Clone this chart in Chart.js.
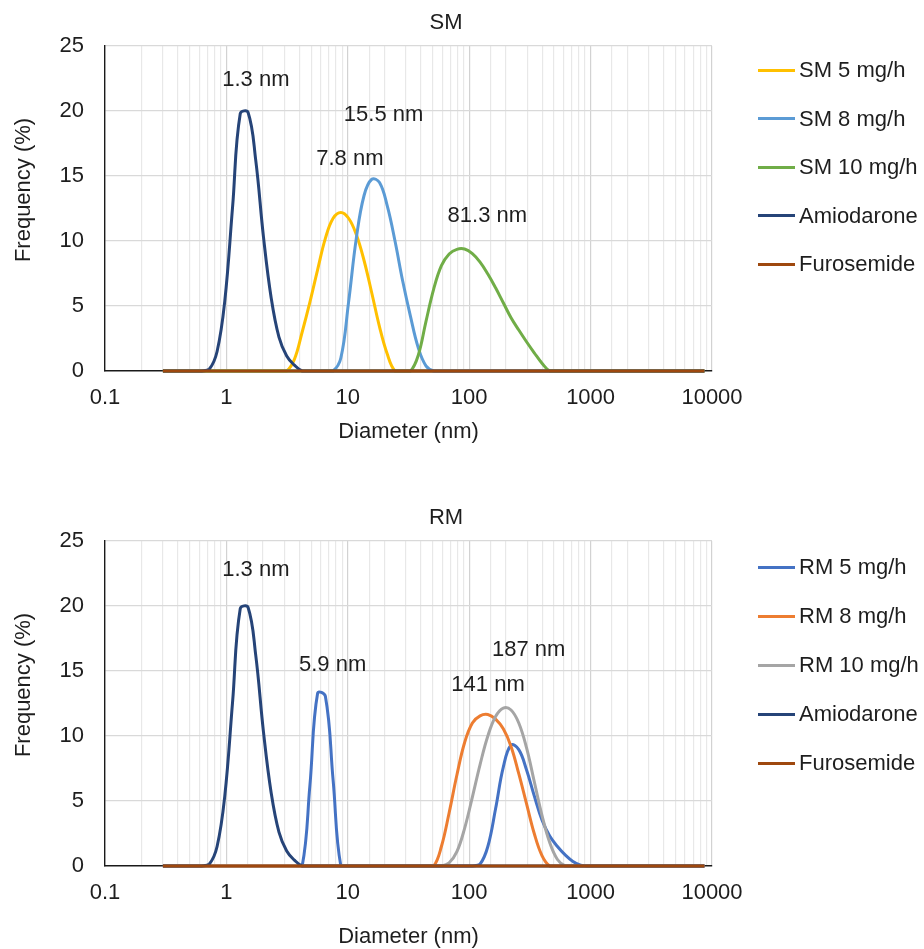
<!DOCTYPE html>
<html><head><meta charset="utf-8">
<script src="https://cdn.jsdelivr.net/npm/chart.js@4.4.0/dist/chart.umd.min.js"></script>
<style>
html,body{margin:0;padding:0;background:#fff;}
#wrap{position:relative;width:924px;height:949px;overflow:hidden;font-family:"Liberation Sans",Arial,sans-serif;}
canvas{position:absolute;left:0;}
.leg{position:absolute;left:758px;height:30px;display:flex;align-items:center;font-size:22px;color:#1e1e1e;white-space:nowrap;}
.leg i{display:inline-block;width:37px;height:3px;margin-right:4px;}
</style></head><body>
<div id="wrap">
<canvas id="smChart" width="924" height="460" style="top:0"></canvas>
<canvas id="rmChart" width="924" height="454" style="top:495px"></canvas>
</div>
<script>
// Size classes (nm)
const sizes = [
  0.3,0.347,0.402,0.466,0.54,0.625,0.724,0.838,0.97,1.124,
  1.301,1.507,1.745,2.021,2.34,2.71,3.138,3.634,4.209,4.874,
  5.644,6.536,7.569,8.765,10.15,11.75,13.61,15.76,18.25,21.14,
  24.48,28.35,32.83,38.01,44.02,50.98,59.03,68.36,79.17,91.68,
  106.2,122.9,142.4,164.9,190.9,221.1,256.1,296.5,343.4,397.6,
  460.5,533.3,617.5,715.1,828.1,959,1111,1286,1489,1725,
  1997,2313,2678,3101,3591,4159,4816,5577,6458,7479,
  8661
];
const amiodarone = [
  0,0,0,0,0,0,0.15,1.5,5.4,12.6,
  19.8,19.9,16.2,10.3,5.6,2.6,1.15,0.45,0,0,
  0,0,0,0,0,0,0,0,0,0,
  0,0,0,0,0,0,0,0,0,0,
  0,0,0,0,0,0,0,0,0,0,
  0,0,0,0,0,0,0,0,0,0,
  0,0,0,0,0,0,0,0,0,0,
  0
];
const furosemide = [
  0,0,0,0,0,0,0,0,0,0,
  0,0,0,0,0,0,0,0,0,0,
  0,0,0,0,0,0,0,0,0,0,
  0,0,0,0,0,0,0,0,0,0,
  0,0,0,0,0,0,0,0,0,0,
  0,0,0,0,0,0,0,0,0,0,
  0,0,0,0,0,0,0,0,0,0,
  0
];
const sm5 = [
  0,0,0,0,0,0,0,0,0,0,
  0,0,0,0,0,0,0,0.9,3.0,5.3,
  7.8,10.2,11.75,12.2,11.75,10.5,8.5,6.0,3.4,1.3,
  0,0,0,0,0,0,0,0,0,0,
  0,0,0,0,0,0,0,0,0,0,
  0,0,0,0,0,0,0,0,0,0,
  0,0,0,0,0,0,0,0,0,0,
  0
];
const sm8 = [
  0,0,0,0,0,0,0,0,0,0,
  0,0,0,0,0,0,0,0,0,0,
  0,0,0,1.0,5.3,10.2,13.5,14.75,14.5,12.7,
  10.0,6.9,4.2,1.8,0.4,0,0,0,0,0,
  0,0,0,0,0,0,0,0,0,0,
  0,0,0,0,0,0,0,0,0,0,
  0,0,0,0,0,0,0,0,0,0,
  0
];
const sm10 = [
  0,0,0,0,0,0,0,0,0,0,
  0,0,0,0,0,0,0,0,0,0,
  0,0,0,0,0,0,0,0,0,0,
  0,0,0,1.2,3.8,6.3,8.1,9.0,9.36,9.38,
  9.03,8.38,7.46,6.4,5.25,4.1,3.15,2.25,1.4,0.6,
  0,0,0,0,0,0,0,0,0,0,
  0,0,0,0,0,0,0,0,0,0,
  0
];
const rm5 = [
  0,0,0,0,0,0,0,0,0,0,
  0,0,0,0,0,0,0,0,0,6.2,
  13.3,13.05,6.6,0,0,0,0,0,0,0,
  0,0,0,0,0,0,0,0,0,0,
  0,0.15,1.5,4.4,7.6,9.3,8.95,7.4,5.4,3.55,
  2.3,1.5,0.85,0.35,0.07,0,0,0,0,0,
  0,0,0,0,0,0,0,0,0,0,
  0
];
const rm8 = [
  0,0,0,0,0,0,0,0,0,0,
  0,0,0,0,0,0,0,0,0,0,
  0,0,0,0,0,0,0,0,0,0,
  0,0,0,0,0,0,1.5,4.1,7.0,9.5,
  11.0,11.55,11.65,11.3,10.55,9.2,7.1,4.8,2.5,0.8,
  0,0,0,0,0,0,0,0,0,0,
  0,0,0,0,0,0,0,0,0,0,
  0
];
const rm10 = [
  0,0,0,0,0,0,0,0,0,0,
  0,0,0,0,0,0,0,0,0,0,
  0,0,0,0,0,0,0,0,0,0,
  0,0,0,0,0,0,0,0.25,1.1,2.9,
  5.3,7.8,10.0,11.5,12.15,12.0,11.0,9.1,6.5,3.9,
  1.8,0.5,0,0,0,0,0,0,0,0,
  0,0,0,0,0,0,0,0,0,0,
  0
];
const smSeriesNames = ['SM 5 mg/h','SM 8 mg/h','SM 10 mg/h','Amiodarone','Furosemide'];
const rmSeriesNames = ['RM 5 mg/h','RM 8 mg/h','RM 10 mg/h','Amiodarone','Furosemide'];
const smSeries = [sm5, sm8, sm10, amiodarone, furosemide];
const rmSeries = [rm5, rm8, rm10, amiodarone, furosemide];
const xTickValues = [0.1, 1, 10, 100, 1000, 10000];
const yTickValues = [0, 5, 10, 15, 20, 25];
// Peak annotations (text, anchor in data units)
const smPeakText = ['1.3 nm','15.5 nm','7.8 nm','81.3 nm'];
const smPeakX = [1.75, 19.7, 10.4, 141];
const smPeakY = [22.4, 19.7, 16.3, 11.9];
const rmPeakText = ['1.3 nm','5.9 nm','187 nm','141 nm'];
const rmPeakX = [1.75, 7.5, 309, 143];
const rmPeakY = [22.8, 15.5, 16.6, 13.9];

// Styles
const smColors = ['#FFC000','#5B9BD5','#70AD47','#264478','#9E480E'];
const rmColors = ['#4472C4','#ED7D31','#A5A5A5','#264478','#9E480E'];
const FAMILY = '"Liberation Sans", Arial, sans-serif';
const FSIZE = 22;
const TXT = '#1e1e1e';

const peakPlugin = {
  id: 'peakLabels',
  afterDatasetsDraw(chart, args, opts) {
    const {ctx} = chart;
    const xs = chart.scales.x, ys = chart.scales.y;
    ctx.save();
    ctx.font = FSIZE + 'px ' + FAMILY;
    ctx.fillStyle = TXT;
    ctx.textAlign = 'center';
    ctx.textBaseline = 'middle';
    opts.text.forEach((t, i) => {
      ctx.fillText(t, xs.getPixelForValue(opts.xs[i]), ys.getPixelForValue(opts.ys[i]));
    });
    ctx.restore();
  }
};
// Y axis title, placed like the original (slightly above the plot's middle)
const yTitlePlugin = {
  id: 'yTitle',
  afterDraw(chart, args, opts) {
    const {ctx, chartArea} = chart;
    ctx.save();
    ctx.font = FSIZE + 'px ' + FAMILY;
    ctx.fillStyle = TXT;
    ctx.textAlign = 'center';
    ctx.textBaseline = 'middle';
    ctx.translate(opts.x, chartArea.top + (chartArea.bottom - chartArea.top) * opts.frac);
    ctx.rotate(-Math.PI / 2);
    ctx.fillText(opts.text, 0, 0);
    ctx.restore();
  }
};

function isDecade(v) { const l = Math.log10(v); return Math.abs(l - Math.round(l)) < 1e-6; }

function build(id, title, names, series, colors, peaks, xHeight, xTitlePad) {
  const datasets = names.map((n, i) => ({
    label: n,
    data: sizes.map((s, j) => ({x: s, y: series[i][j]})),
    xAxisID: 'x', yAxisID: 'y',
    borderColor: colors[i], backgroundColor: colors[i],
    borderWidth: 3, pointRadius: 0, pointHoverRadius: 0,
    tension: 0.4, fill: false, clip: false, order: -i
  }));
  return new Chart(document.getElementById(id), {
    type: 'line',
    data: {datasets},
    options: {
      responsive: false, animation: false, devicePixelRatio: 1,
      events: [],
      layout: {padding: {left: 0, right: 32, top: 0, bottom: 0}},
      plugins: {
        legend: {display: false},
        tooltip: {enabled: false},
        title: {display: true, text: title, color: TXT,
          font: {family: FAMILY, size: FSIZE, weight: 'normal', lineHeight: 1.1},
          padding: {top: 10.9, bottom: 10.9}},
        peakLabels: peaks,
        yTitle: {text: 'Frequency (%)', x: 24, frac: 0.443}
      },
      scales: {
        x: {
          type: 'logarithmic', min: xTickValues[0], max: xTickValues[xTickValues.length - 1],
          grid: {drawTicks: false, lineWidth: 1.2,
            color: c => (c.tick && c.tick.value <= xTickValues[0] * 1.0001) ? 'rgba(0,0,0,0)' :
              (c.tick && isDecade(c.tick.value) ? '#D2D2D2' : '#E8E8E8')},
          border: {display: true, color: '#1a1a1a', width: 1.4},
          ticks: {autoSkip: false, maxRotation: 0, minRotation: 0, padding: 14, color: TXT,
            font: {family: FAMILY, size: FSIZE},
            callback: v => xTickValues.some(t => Math.abs(t - v) / t < 1e-6) ? (v < 1 ? v.toFixed(1) : String(Math.round(v))) : ''},
          title: {display: true, text: 'Diameter (nm)', color: TXT,
            font: {family: FAMILY, size: FSIZE, lineHeight: 1.1}, padding: {top: 0, bottom: xTitlePad}},
          afterFit: s => { s.height = xHeight; }
        },
        y: {
          min: yTickValues[0], max: yTickValues[yTickValues.length - 1],
          grid: {drawTicks: false, lineWidth: 1.3,
            color: c => (c.tick && c.tick.value === 0) ? 'rgba(0,0,0,0)' : '#D9D9D9'},
          border: {display: true, color: '#1a1a1a', width: 1.4},
          ticks: {stepSize: yTickValues[1] - yTickValues[0], padding: 21, color: TXT,
            font: {family: FAMILY, size: FSIZE}},
          title: {display: false},
          afterFit: s => { s.width = 105; }
        },
        spacer: {
          axis: 'y', type: 'linear', position: 'right', display: true,
          grid: {display: false, drawTicks: false}, border: {display: false},
          ticks: {display: false},
          afterFit: s => { s.width = 180; }
        }
      }
    },
    plugins: [peakPlugin, yTitlePlugin]
  });
}

function legend(names, colors, firstCenter, spacing) {
  const wrap = document.getElementById('wrap');
  names.forEach((n, i) => {
    const d = document.createElement('div');
    d.className = 'leg';
    d.style.top = (firstCenter + i * spacing - 15) + 'px';
    const line = document.createElement('i');
    line.style.background = colors[i];
    d.appendChild(line);
    d.appendChild(document.createTextNode(n));
    wrap.appendChild(d);
  });
}

build('smChart', 'SM', smSeriesNames, smSeries, smColors,
  {text: smPeakText, xs: smPeakX, ys: smPeakY}, 89, 15.9);
build('rmChart', 'RM', rmSeriesNames, rmSeries, rmColors,
  {text: rmPeakText, xs: rmPeakX, ys: rmPeakY}, 83, 0);
legend(smSeriesNames, smColors, 70, 48.5);
legend(rmSeriesNames, rmColors, 567, 49);
</script></body></html>
